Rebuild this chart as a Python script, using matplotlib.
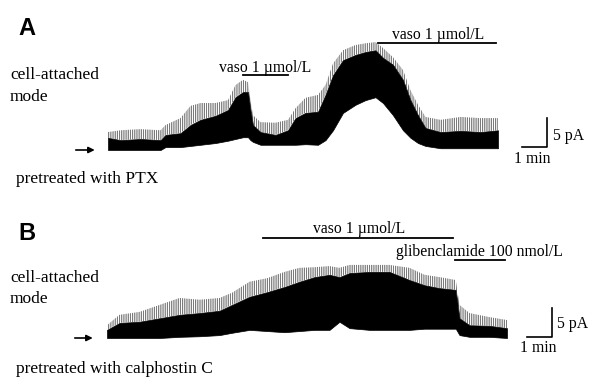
import numpy as np
import matplotlib
matplotlib.use('Agg')
import matplotlib.pyplot as plt

# trace envelopes: time in min, current in pA above baseline
t_a = [0, 0.5, 1.3, 2.1, 2.3, 2.9, 3.3, 3.7, 4.3, 4.8, 5.1, 5.4, 5.6, 5.7, 5.8, 6.1, 6.7, 7.2, 7.5,
       7.9, 8.4, 8.7, 9.0, 9.4, 9.9, 10.3, 10.7, 11.0, 11.4, 11.8, 12.1, 12.4, 12.7, 13.3, 14.1, 14.9, 15.6]
low_a = [0, 0, 0, 0, 0.5, 0.5, 0.7, 0.9, 1.2, 1.6, 1.9, 2.2, 2.2, 1.7, 1.4, 0.9, 0.9, 0.9, 0.9,
         1.0, 0.9, 1.7, 3.4, 6.4, 7.8, 8.6, 9.1, 8.1, 6.0, 3.4, 2.1, 1.2, 0.7, 0.3, 0.3, 0.3, 0.3]
top_a = [2.1, 1.7, 1.9, 1.7, 2.6, 2.9, 4.3, 5.2, 5.9, 6.9, 9.1, 10.0, 10.0, 6.9, 4.3, 3.1, 2.6, 3.4, 5.5,
         6.4, 6.6, 9.5, 12.9, 15.5, 16.4, 16.9, 17.2, 15.9, 14.7, 12.1, 8.6, 6.0, 3.8, 3.1, 3.3, 3.1, 3.4]
peak_a = [3.1, 3.4, 3.6, 3.4, 4.3, 5.5, 7.6, 8.1, 8.1, 8.6, 11.2, 12.1, 11.7, 8.6, 6.0, 4.8, 4.7, 5.2, 7.2,
          9.0, 9.5, 11.2, 14.9, 17.2, 18.1, 18.4, 18.6, 17.6, 16.0, 13.8, 10.3, 7.8, 5.7, 5.2, 5.7, 5.5, 5.5]

t_b = [0, 0.5, 1.3, 2.1, 2.9, 3.7, 4.5, 5.0, 5.7, 6.4, 7.1, 7.7, 8.3, 8.9, 9.3, 9.7, 10.5, 11.3,
       12.1, 12.7, 13.3, 13.95, 14.1, 14.5, 15.3, 16.0]
low_b = [0, 0, 0, 0, 0.2, 0.3, 0.5, 0.9, 1.4, 1.2, 1.0, 1.2, 1.4, 1.4, 2.8, 1.7, 1.4, 1.4,
         1.4, 1.6, 1.6, 1.6, 0.5, 0.2, 0.2, 0]
top_b = [1.4, 2.6, 2.8, 3.4, 4.0, 4.3, 4.7, 5.7, 7.1, 7.9, 8.8, 9.7, 10.5, 10.9, 10.5, 11.2, 11.4, 11.4,
         10.0, 9.1, 8.6, 8.3, 3.4, 2.2, 2.1, 1.7]
peak_b = [2.2, 4.0, 4.5, 5.7, 6.9, 6.6, 6.9, 7.8, 9.7, 10.3, 11.4, 12.1, 12.2, 12.4, 12.1, 12.6, 12.6, 12.6,
          12.1, 10.9, 10.5, 10.0, 5.7, 4.3, 3.6, 3.1]

# drug application periods (min)
vaso_a = [(5.4, 7.2), (10.8, 15.5)]
vaso_b = (6.24, 13.84)
glib_b = (13.92, 15.92)

W, H = 589, 378
PX_MIN = 25.0   # px per minute
PX_PA = 5.8     # px per pA

plt.rcParams['hatch.linewidth'] = 0.5
fig = plt.figure(figsize=(W / 100, H / 100), dpi=100)
serif = 'Liberation Serif'


def panel(top_px, bot_px, x0_px, y0_px):
    ax = fig.add_axes([0, 1 - bot_px / H, 1, (bot_px - top_px) / H])
    ax.set_xlim(-x0_px / PX_MIN, (W - x0_px) / PX_MIN)
    ax.set_ylim((y0_px - bot_px) / PX_PA, (y0_px - top_px) / PX_PA)
    ax.axis('off')
    return ax


def fy(px):
    return 1 - px / H


def trace(ax, t, low, top, peak):
    ax.fill_between(t, low, top, color='black', lw=0.5)
    # spiky fringe above the dense part of the trace
    ax.fill_between(t, top, peak, facecolor='none', edgecolor='0.25',
                    hatch='|||||||||', lw=0)


def scalebar(ax, x, y):
    ax.plot([x - 1, x, x], [y, y, y + 5], color='black', lw=1.2)


# panel A
axA = panel(0, 190, 108, 150)
trace(axA, t_a, low_a, top_a, peak_a)
for (s, e), yb in zip(vaso_a, [12.9, 18.4]):
    axA.plot([s, e], [yb, yb], color='black', lw=1.3)
axA.annotate('', xy=(-0.42, 0), xytext=(-1.4, 0),
             arrowprops=dict(arrowstyle='-|>', color='black', lw=1.2, mutation_scale=9))
scalebar(axA, 17.56, 0.5)

fig.text(18 / W, fy(35), 'A', fontsize=17, fontweight='bold', family='Liberation Sans')
fig.text(10 / W, fy(79), 'cell-attached', fontsize=12.5, family=serif)
fig.text(10 / W, fy(101), 'mode', fontsize=12.5, family=serif)
fig.text(16 / W, fy(183), 'pretreated with PTX', fontsize=12.5, family=serif)
fig.text(219 / W, fy(72), 'vaso 1 \u00b5mol/L', fontsize=11.3, family=serif)
fig.text(392 / W, fy(39), 'vaso 1 \u00b5mol/L', fontsize=11.3, family=serif)
fig.text(553 / W, fy(140), '5 pA', fontsize=11.3, family=serif)
fig.text(514 / W, fy(163), '1 min', fontsize=11.3, family=serif)

# panel B
axB = panel(190, 378, 107, 338)
trace(axB, t_b, low_b, top_b, peak_b)
axB.plot(vaso_b, [17.2, 17.2], color='black', lw=1.3)
axB.plot(glib_b, [13.4, 13.4], color='black', lw=1.3)
axB.annotate('', xy=(-0.46, 0), xytext=(-1.4, 0),
             arrowprops=dict(arrowstyle='-|>', color='black', lw=1.2, mutation_scale=9))
scalebar(axB, 17.8, 0.17)

fig.text(18 / W, fy(240), 'B', fontsize=17, fontweight='bold', family='Liberation Sans')
fig.text(10 / W, fy(282), 'cell-attached', fontsize=12.5, family=serif)
fig.text(10 / W, fy(303), 'mode', fontsize=12.5, family=serif)
fig.text(16 / W, fy(373), 'pretreated with calphostin C', fontsize=12.5, family=serif)
fig.text(313 / W, fy(233), 'vaso 1 \u00b5mol/L', fontsize=11.3, family=serif)
fig.text(396 / W, fy(256), 'glibenclamide 100 nmol/L', fontsize=11.3, family=serif)
fig.text(557 / W, fy(328), '5 pA', fontsize=11.3, family=serif)
fig.text(520 / W, fy(352), '1 min', fontsize=11.3, family=serif)

fig.savefig('out.png', dpi=100)
